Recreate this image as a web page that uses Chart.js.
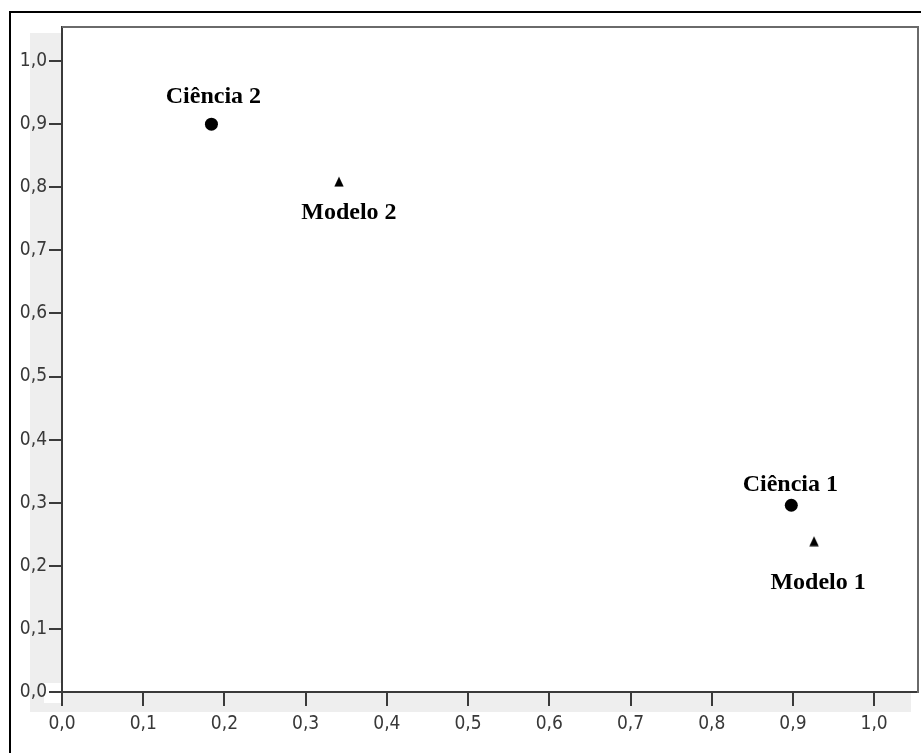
<!DOCTYPE html>
<html>
<head>
<meta charset="utf-8">
<script src="https://cdn.jsdelivr.net/npm/chart.js@4/dist/chart.umd.min.js"></script>
<style>
  html, body { margin: 0; padding: 0; background: #ffffff; }
  #wrap { width: 921px; height: 753px; }
</style>
</head>
<body>
<div id="wrap"><canvas id="c" width="921" height="753"></canvas></div>
<script>
// Points of the two groups
const cienciaNames = ['Ciência 1', 'Ciência 2'];
const cienciaX = [0.898, 0.184];
const cienciaY = [0.296, 0.900];

const modeloNames = ['Modelo 1', 'Modelo 2'];
const modeloX = [0.926, 0.341];
const modeloY = [0.239, 0.809];

// Axis ticks
const tickValues = [0.0, 0.1, 0.2, 0.3, 0.4, 0.5, 0.6, 0.7, 0.8, 0.9, 1.0];
const tickLabels = ['0,0', '0,1', '0,2', '0,3', '0,4', '0,5', '0,6', '0,7', '0,8', '0,9', '1,0'];
const axisMax = 1.054;

// Where each name sits relative to its marker (pixels)
const labelPlacement = {
  'Ciência 1': [-1, -14],
  'Ciência 2': [2, -21],
  'Modelo 1': [4, 48],
  'Modelo 2': [10, 37]
};

// Small filled triangle marker
function makeTriangle() {
  const cv = document.createElement('canvas');
  cv.width = 10; cv.height = 11;
  const g = cv.getContext('2d');
  g.fillStyle = '#000';
  g.beginPath();
  g.moveTo(5, 0.5);
  g.lineTo(9.7, 10.5);
  g.lineTo(0.3, 10.5);
  g.closePath();
  g.fill();
  return cv;
}

const axisColor = '#3a3a3a';
const tickFont = { family: '"DejaVu Sans Condensed", "Liberation Sans", sans-serif', size: 19 };

function fixedTicks(scale) {
  scale.ticks = tickValues.map(v => ({ value: v }));
}
function tickText(value) {
  const i = tickValues.findIndex(v => Math.abs(v - value) < 1e-9);
  return i >= 0 ? tickLabels[i] : '';
}

const framePlugin = {
  id: 'frame',
  beforeDraw(chart) {
    const { ctx, chartArea: a } = chart;
    ctx.save();
    // light band behind the tick labels
    ctx.fillStyle = '#eeeeee';
    ctx.fillRect(30, 33, a.left - 30, a.bottom + 20 - 33);
    ctx.fillRect(30, a.bottom, 911 - 30, 20);
    ctx.fillStyle = '#ffffff';
    ctx.fillRect(44, a.bottom - 9, a.left - 45, 20);
    ctx.restore();
  },
  afterDraw(chart) {
    const { ctx, chartArea: a } = chart;
    ctx.save();
    // top and right edges of the plot box
    ctx.strokeStyle = '#6a6a6a';
    ctx.lineWidth = 2;
    ctx.beginPath();
    ctx.moveTo(a.left, a.top);
    ctx.lineTo(a.right, a.top);
    ctx.lineTo(a.right, a.bottom + 1);
    ctx.stroke();
    // outer frame, left and top
    ctx.strokeStyle = '#000000';
    ctx.beginPath();
    ctx.moveTo(10, 753);
    ctx.lineTo(10, 12);
    ctx.lineTo(921, 12);
    ctx.stroke();

    // point names
    ctx.fillStyle = '#000000';
    ctx.font = 'bold 24px "Liberation Serif", "Times New Roman", serif';
    ctx.textAlign = 'center';
    ctx.textBaseline = 'alphabetic';
    chart.data.datasets.forEach((ds, di) => {
      const meta = chart.getDatasetMeta(di);
      meta.data.forEach((el, i) => {
        const name = ds.names[i];
        const off = labelPlacement[name] || [0, -14];
        ctx.fillText(name, el.x + off[0], el.y + off[1]);
      });
    });
    ctx.restore();
  }
};

new Chart(document.getElementById('c'), {
  type: 'scatter',
  data: {
    datasets: [
      {
        label: 'Ciência',
        names: cienciaNames,
        data: cienciaX.map((x, i) => ({ x, y: cienciaY[i] })),
        pointStyle: 'circle',
        pointRadius: 6.5,
        backgroundColor: '#000000',
        borderColor: '#000000',
        borderWidth: 0
      },
      {
        label: 'Modelo',
        names: modeloNames,
        data: modeloX.map((x, i) => ({ x, y: modeloY[i] })),
        pointStyle: makeTriangle(),
        pointRadius: 5,
        backgroundColor: '#000000',
        borderColor: '#000000'
      }
    ]
  },
  options: {
    responsive: false,
    animation: false,
    events: [],
    layout: { autoPadding: false, padding: { top: 27, right: 3, left: 0, bottom: 0 } },
    plugins: { legend: { display: false }, tooltip: { enabled: false } },
    scales: {
      x: {
        type: 'linear',
        min: 0,
        max: axisMax,
        afterBuildTicks: fixedTicks,
        afterFit(scale) { scale.height = 61; scale.paddingLeft = 0; scale.paddingRight = 0; },
        grid: { display: true, drawOnChartArea: false, drawTicks: true, tickLength: 14, color: axisColor, lineWidth: 2 },
        border: { display: true, color: axisColor, width: 2 },
        ticks: { color: '#383838', font: tickFont, padding: 7, maxRotation: 0, autoSkip: false, callback: tickText }
      },
      y: {
        type: 'linear',
        min: 0,
        max: axisMax,
        afterBuildTicks: fixedTicks,
        afterFit(scale) { scale.width = 62; scale.paddingTop = 0; scale.paddingBottom = 0; },
        grid: { display: true, drawOnChartArea: false, drawTicks: true, tickLength: 13, color: axisColor, lineWidth: 2 },
        border: { display: true, color: axisColor, width: 2 },
        ticks: { color: '#383838', font: tickFont, padding: 2, autoSkip: false, callback: tickText }
      }
    }
  },
  plugins: [framePlugin]
});
</script>
</body>
</html>
